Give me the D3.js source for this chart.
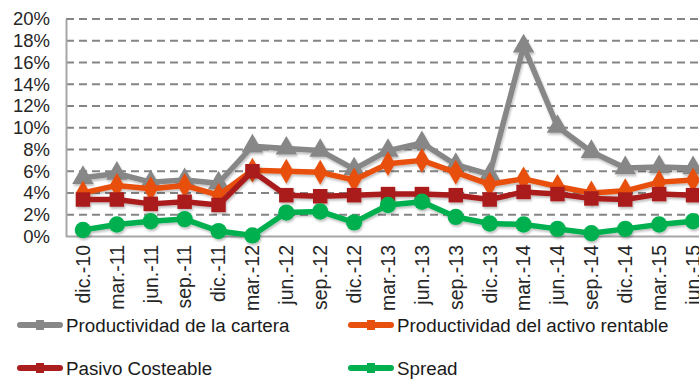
<!DOCTYPE html>
<html>
<head>
<meta charset="utf-8">
<script src="https://cdn.jsdelivr.net/npm/d3@7"></script>
<style>
  html, body { margin: 0; padding: 0; background: #fff; }
  svg { display: block; font-family: "Liberation Sans", Arial, sans-serif; }
</style>
</head>
<body>
<svg id="chart" width="699" height="381"></svg>
<script>
const categories = ["dic.-10","mar.-11","jun.-11","sep.-11","dic.-11","mar.-12","jun.-12","sep.-12","dic.-12","mar.-13","jun.-13","sep.-13","dic.-13","mar.-14","jun.-14","sep.-14","dic.-14","mar.-15","jun.-15"];
const cartera  = [5.4, 5.8, 5.0, 5.2, 4.9, 8.3, 8.1, 7.9, 6.2, 7.9, 8.6, 6.6, 5.7, 17.5, 10.1, 7.8, 6.3, 6.4, 6.3];
const activo   = [4.0, 4.7, 4.4, 4.7, 3.8, 6.1, 6.0, 5.9, 5.2, 6.7, 7.0, 5.9, 4.8, 5.3, 4.6, 4.0, 4.2, 5.0, 5.2];
const pasivo   = [3.4, 3.4, 3.0, 3.2, 2.9, 6.0, 3.8, 3.7, 3.8, 3.9, 3.9, 3.8, 3.4, 4.1, 3.9, 3.5, 3.4, 3.9, 3.8];
const spread   = [0.6, 1.1, 1.4, 1.6, 0.5, 0.1, 2.2, 2.3, 1.3, 2.9, 3.2, 1.8, 1.2, 1.1, 0.7, 0.3, 0.7, 1.1, 1.4];
const yTicks   = [0, 2, 4, 6, 8, 10, 12, 14, 16, 18, 20];

const seriesNames  = ["Productividad de la cartera", "Productividad del activo rentable", "Pasivo Costeable", "Spread"];
const seriesColors = ["#878787", "#E8500E", "#AA1E1E", "#00B050"];
const seriesShapes = [d3.symbolTriangle, d3.symbolDiamond, d3.symbolSquare, d3.symbolCircle];
const seriesValues = [cartera, activo, pasivo, spread];

const svg = d3.select("#chart");
const x = d3.scaleBand().domain(categories).range([66, 710]);
const y = d3.scaleLinear().domain([0, 20]).range([236.5, 19]);
const cx = d => x(d) + x.bandwidth() / 2;

const defs = svg.append("defs");
const f = defs.append("filter").attr("id", "sh").attr("x", "-20%").attr("y", "-20%").attr("width", "140%").attr("height", "140%");
f.append("feDropShadow").attr("dx", 1).attr("dy", 2).attr("stdDeviation", 1.2).attr("flood-color", "#000").attr("flood-opacity", 0.25);

// gridlines
svg.append("g").selectAll("line").data(yTicks.filter(t => t > 0)).join("line")
  .attr("x1", 66).attr("x2", 710)
  .attr("y1", d => y(d)).attr("y2", d => y(d))
  .attr("stroke", "#858585").attr("stroke-width", 2).attr("stroke-dasharray", "8,5");

// y axis
const yAxis = svg.append("g").attr("transform", "translate(66,0)")
  .call(d3.axisLeft(y).tickValues(yTicks).tickFormat(d => d + "%").tickSize(0).tickPadding(16));
yAxis.select(".domain").attr("stroke", "#a6a6a6").attr("stroke-width", 2);
yAxis.selectAll("text").attr("font-size", "18.5px").attr("fill", "#262626")
  .attr("font-family", "Liberation Sans, Arial, sans-serif");

// x axis
svg.append("line").attr("x1", 66).attr("x2", 710).attr("y1", y(0)).attr("y2", y(0))
  .attr("stroke", "#a6a6a6").attr("stroke-width", 2);
svg.append("g").selectAll("text").data(categories).join("text")
  .attr("transform", d => `translate(${cx(d)},245) rotate(-90)`)
  .attr("text-anchor", "end").attr("dy", "0.35em")
  .attr("font-size", "19.5px").attr("fill", "#262626")
  .text(d => d);

// series
const line = d3.line().x((d, i) => cx(categories[i])).y(d => y(d));
seriesValues.forEach((vals, s) => {
  const g = svg.append("g").attr("filter", "url(#sh)");
  g.append("path").datum(vals).attr("d", line)
    .attr("fill", "none").attr("stroke", seriesColors[s]).attr("stroke-width", 5.5)
    .attr("stroke-linejoin", "round");
  const sizes = [200, 180, 210, 210];
  g.selectAll("path.m").data(vals).join("path").attr("class", "m")
    .attr("transform", (d, i) => `translate(${cx(categories[i])},${y(d)})`)
    .attr("d", d3.symbol().type(seriesShapes[s]).size(sizes[s]))
    .attr("fill", seriesColors[s]);
});

// legend
const legendPos = [[17, 325], [348, 325], [17, 368], [348, 368]];
seriesNames.forEach((name, s) => {
  const [lx, ly] = legendPos[s];
  const g = svg.append("g");
  g.append("line").attr("x1", lx + 3).attr("x2", lx + 43).attr("y1", ly).attr("y2", ly)
    .attr("stroke", seriesColors[s]).attr("stroke-width", 6).attr("stroke-linecap", "round");
  g.append("rect").attr("x", lx + 19).attr("y", ly - 5).attr("width", 8).attr("height", 10)
    .attr("fill", seriesColors[s]);
  g.append("text").attr("x", lx + 49).attr("y", ly).attr("dy", "0.35em")
    .attr("font-size", "18.8px").attr("fill", "#1a1a1a").text(name);
});
</script>
</body>
</html>
